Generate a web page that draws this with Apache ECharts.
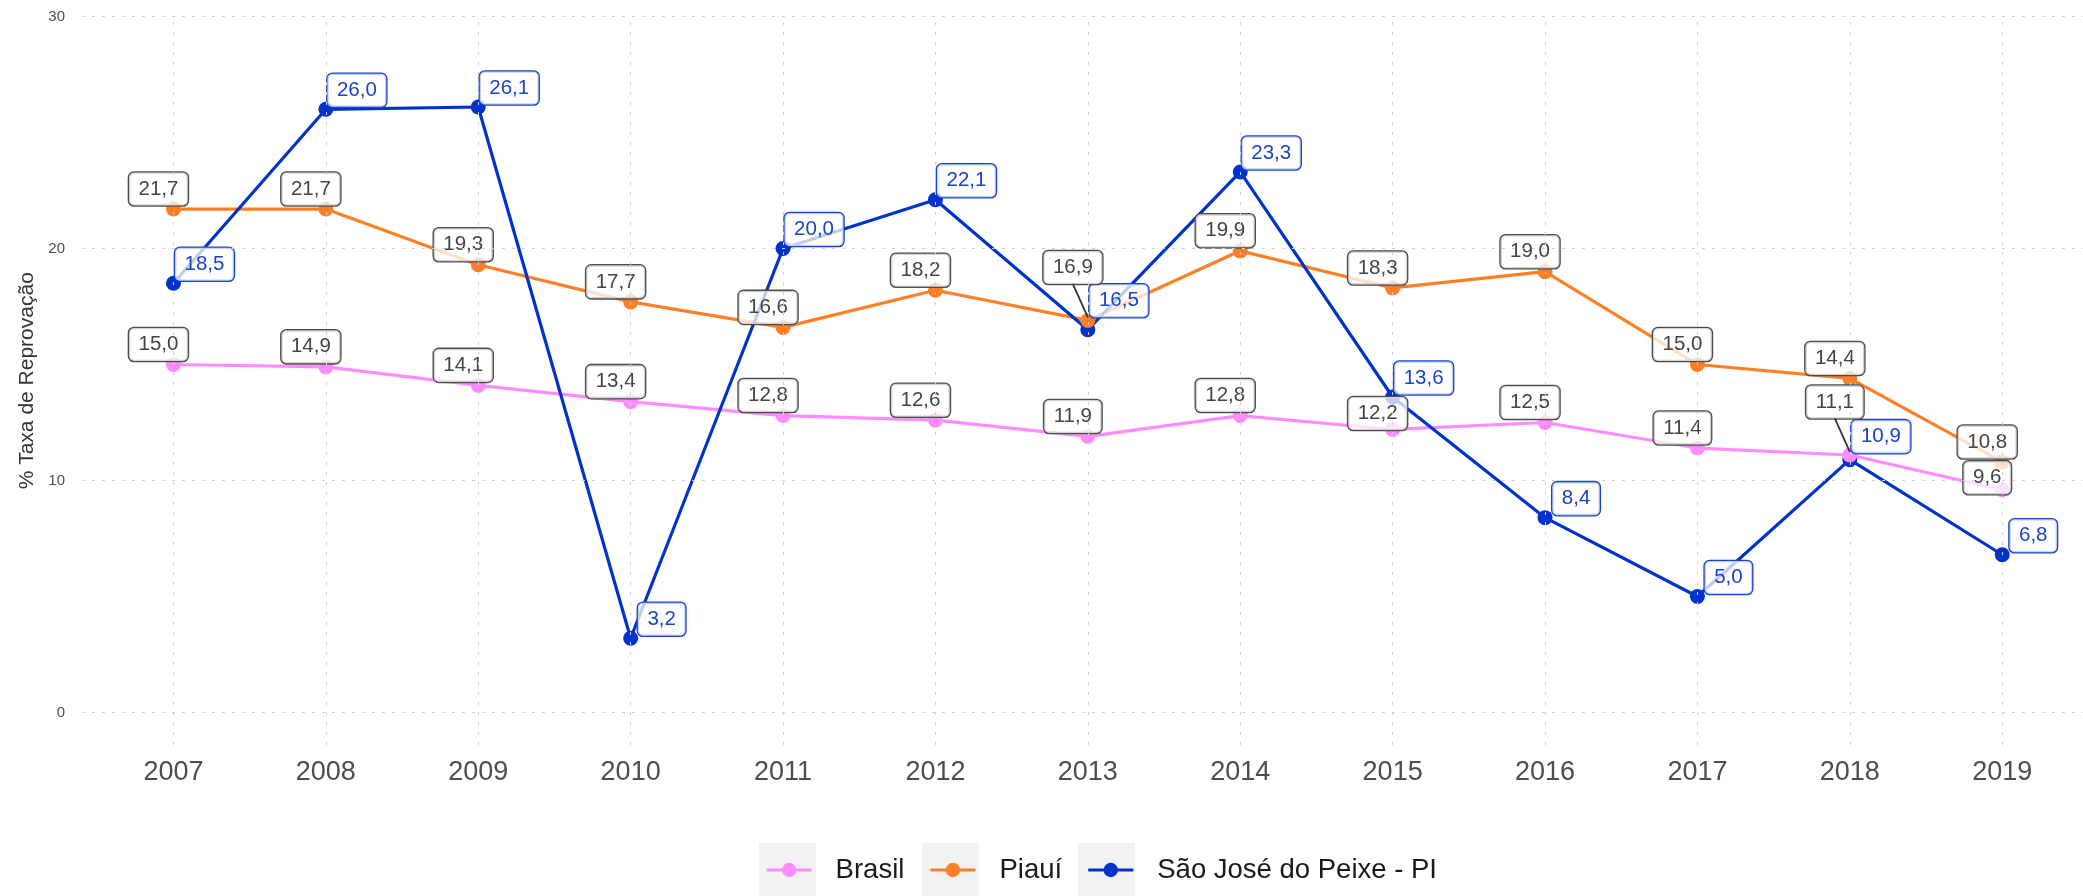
<!DOCTYPE html>
<html>
<head>
<meta charset="utf-8">
<script src="https://cdn.jsdelivr.net/npm/echarts@6/dist/echarts.min.js"></script>
<style>
  html, body { margin: 0; padding: 0; background: #ffffff; }
  #chart { width: 2083px; height: 896px; }
</style>
</head>
<body>
<div id="chart"></div>
<script>
// Taxa de reprovação (%) por ano
const years = [2007, 2008, 2009, 2010, 2011, 2012, 2013, 2014, 2015, 2016, 2017, 2018, 2019];
const brasil = [15.0, 14.9, 14.1, 13.4, 12.8, 12.6, 11.9, 12.8, 12.2, 12.5, 11.4, 11.1, 9.6];
const piaui = [21.7, 21.7, 19.3, 17.7, 16.6, 18.2, 16.9, 19.9, 18.3, 19.0, 15.0, 14.4, 10.8];
const saoJose = [18.5, 26.0, 26.1, 3.2, 20.0, 22.1, 16.5, 23.3, 13.6, 8.4, 5.0, 10.9, 6.8];
const yTicks = [0, 10, 20, 30];

const seriesNames = ['Brasil', 'Piauí', 'São José do Peixe - PI'];
const seriesValues = [brasil, piaui, saoJose];
const seriesColors = ['#FF8CFF', '#FF7F27', '#0033CC'];
const labelTextColors = ['#444444', '#444444', '#1A44C8'];
const labelBorderColors = ['#4d4d4d', '#4d4d4d', '#1A44C8'];

// Label placement in pixels relative to the point: a default per series,
// plus a few labels pushed apart so they don't collide.
const labelShift = [[-15, -20], [-15, -20], [31, -19]];
const labelShiftOverrides = [
  { 2015: [-15, -16], 2018: [-15, -53], 2019: [-15, -12] },
  { 2013: [-15, -53] },
  { 2013: [31, -29], 2018: [31, -23] }
];
// labels that sit far from their point get a leader segment
const labelLeaders = [[2018], [2013], []];
const LABEL_HALF_HEIGHT = 16.5;

const FONT = '"Liberation Sans", Arial, Helvetica, sans-serif';
const fmt = v => v.toFixed(1).replace('.', ',');

const chart = echarts.init(document.getElementById('chart'), null, { renderer: 'canvas' });

// background grid drawn as reference lines
const gridSeries = {
  type: 'line',
  name: '__grid',
  data: [],
  z: 1,
  silent: true,
  animation: false,
  markLine: {
    silent: true,
    animation: false,
    symbol: ['none', 'none'],
    label: { show: false },
    lineStyle: { color: '#cfcfcf', type: [3, 7], width: 1 },
    emphasis: { disabled: true },
    data: years.map(y => ({ xAxis: y })).concat(yTicks.map(v => ({ yAxis: v })))
  }
};

const lineSeries = seriesNames.map((name, s) => ({
  type: 'line',
  name: name,
  data: years.map((y, i) => [y, seriesValues[s][i]]),
  symbol: 'circle',
  symbolSize: 15,
  showSymbol: false,
  lineStyle: { width: 3.2, color: seriesColors[s] },
  itemStyle: { color: seriesColors[s] },
  z: 3,
  silent: true,
  animation: false
}));

// points with value labels; drawn above every line
const pointOrder = [2, 1, 0];
const pointSeries = pointOrder.map(s => ({
  type: 'scatter',
  name: seriesNames[s],
  symbol: 'circle',
  symbolSize: 15,
  itemStyle: { color: seriesColors[s], opacity: 1 },
  z: 4,
  silent: true,
  animation: false,
  label: {
    show: true,
    position: 'inside',
    formatter: p => fmt(p.value[1]),
    fontFamily: FONT,
    fontSize: 20.5,
    lineHeight: 21,
    color: labelTextColors[s],
    backgroundColor: 'rgba(255,255,255,0.75)',
    borderColor: labelBorderColors[s],
    borderWidth: 1.3,
    borderRadius: 5,
    padding: [6, 9.5, 6, 9.5],
    offset: labelShift[s]
  },
  data: years.map((y, i) => {
    const item = { value: [y, seriesValues[s][i]] };
    const shift = labelShiftOverrides[s][y];
    if (shift) item.label = { offset: shift };
    return item;
  })
}));

// leader segments from displaced labels back to their points
const leaderData = [];
labelLeaders.forEach((ys, s) => ys.forEach(y => {
  leaderData.push([y, seriesValues[s][years.indexOf(y)], s]);
}));
const leaderSeries = {
  type: 'custom',
  name: '__leaders',
  z: 5,
  silent: true,
  animation: false,
  encode: { x: 0, y: 1 },
  data: leaderData,
  renderItem: (params, api) => {
    const x = api.value(0);
    const s = api.value(2);
    const p = api.coord([x, api.value(1)]);
    const sh = labelShiftOverrides[s][x] || labelShift[s];
    return {
      type: 'line',
      shape: { x1: p[0] + sh[0], y1: p[1] + sh[1] + LABEL_HALF_HEIGHT, x2: p[0], y2: p[1] - 3 },
      style: { stroke: '#333333', lineWidth: 1.8 }
    };
  }
};

const keyBoxes = [759, 922, 1078].map(x => ({
  type: 'rect',
  left: x,
  top: 843,
  shape: { width: 57, height: 53 },
  style: { fill: '#f2f2f2' },
  z: 1,
  silent: true
}));

chart.setOption({
  animation: false,
  backgroundColor: '#ffffff',
  textStyle: { fontFamily: FONT },
  grid: { left: 82, right: 0, top: 16.5, bottom: 151, containLabel: false },
  xAxis: {
    type: 'value',
    min: 2006.4,
    max: 2019.53,
    axisLine: { show: false },
    axisTick: { show: false },
    splitLine: { show: false },
    axisLabel: {
      customValues: years,
      formatter: v => String(v),
      fontFamily: FONT,
      fontSize: 27,
      color: '#4d4d4d',
      margin: 14
    }
  },
  yAxis: {
    type: 'value',
    min: -1.4,
    max: 30,
    name: '% Taxa de Reprovação',
    nameLocation: 'middle',
    nameGap: 44,
    nameTextStyle: { fontFamily: FONT, fontSize: 21, color: '#333333' },
    axisLine: { show: false },
    axisTick: { show: false },
    splitLine: { show: false },
    axisLabel: {
      customValues: yTicks,
      formatter: v => String(v),
      fontFamily: FONT,
      fontSize: 15,
      color: '#4d4d4d',
      margin: 17
    }
  },
  legend: {
    data: seriesNames,
    left: 765,
    top: 855,
    orient: 'horizontal',
    padding: 0,
    itemWidth: 45,
    itemHeight: 18,
    itemGap: 24.5,
    selectedMode: false,
    z: 4,
    lineStyle: { width: 3.2 },
    textStyle: {
      fontFamily: FONT,
      fontSize: 27.5,
      lineHeight: 30,
      color: '#1a1a1a',
      padding: [0, 0, 0, 19]
    }
  },
  graphic: keyBoxes,
  series: [gridSeries].concat(lineSeries, pointSeries, [leaderSeries])
});
</script>
</body>
</html>
